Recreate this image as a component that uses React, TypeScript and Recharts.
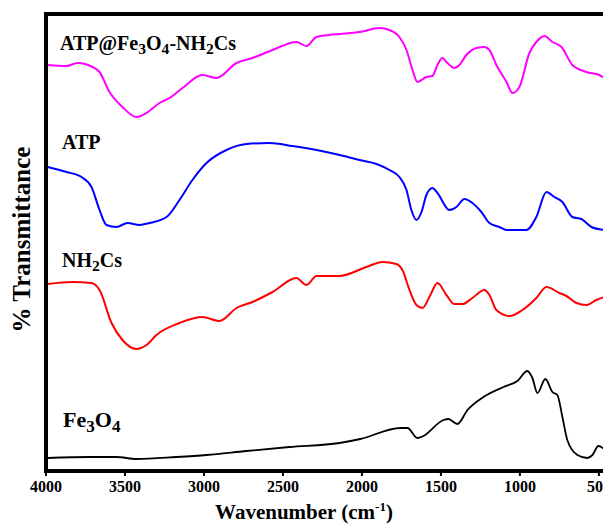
import { LineChart, Line, XAxis, YAxis, Label, ReferenceLine } from 'recharts';

// FTIR spectra, stacked (arbitrary offset units)
const xTicks = [4000, 3500, 3000, 2500, 2000, 1500, 1000, 500];

const atpFeWn = [3990, 3870, 3801, 3706, 3661, 3598, 3516, 3427, 3364, 3282, 3218, 3136, 3010, 2921, 2794, 2693, 2566, 2415, 2351, 2288, 2206, 2142, 2016, 1889, 1826, 1763, 1718, 1680, 1649, 1592, 1554, 1522, 1491, 1459, 1415, 1383, 1339, 1275, 1225, 1193, 1149, 1085, 1047, 1003, 940, 896, 845, 794, 737, 668, 579, 497, 465];
const atpFeT = [406, 405, 408, 404, 399, 379, 364, 354, 358, 368, 373, 383, 396, 393, 408, 413, 421, 429, 425, 434, 436, 437, 439, 443, 441, 434, 421, 401, 389, 394, 395, 406, 413, 408, 403, 406, 416, 423, 424, 421, 406, 389, 378, 384, 418, 429, 435, 429, 424, 406, 399, 396, 393];

const atpWn = [3990, 3870, 3775, 3712, 3661, 3617, 3554, 3484, 3408, 3345, 3237, 3155, 3073, 2984, 2858, 2731, 2585, 2440, 2288, 2142, 2016, 1908, 1826, 1763, 1718, 1687, 1655, 1623, 1592, 1554, 1522, 1446, 1402, 1351, 1301, 1244, 1193, 1130, 1085, 959, 896, 832, 782, 731, 668, 611, 547, 465];
const atpT = [304, 299, 294, 284, 261, 246, 244, 248, 246, 248, 254, 271, 291, 308, 321, 327, 328, 325, 321, 316, 311, 307, 301, 294, 281, 261, 251, 259, 276, 283, 278, 261, 264, 272, 268, 259, 248, 244, 241, 241, 254, 279, 274, 269, 254, 252, 244, 241];

const csWn = [3990, 3832, 3712, 3661, 3585, 3516, 3427, 3364, 3301, 3155, 3010, 2902, 2794, 2693, 2566, 2415, 2351, 2288, 2142, 1972, 1870, 1782, 1744, 1699, 1655, 1617, 1573, 1522, 1465, 1415, 1364, 1301, 1225, 1193, 1149, 1066, 984, 896, 832, 750, 706, 642, 579, 516, 465];
const csT = [187, 189, 188, 181, 148, 131, 122, 126, 136, 148, 154, 150, 163, 169, 179, 193, 186, 195, 195, 204, 209, 207, 201, 181, 166, 163, 174, 188, 176, 167, 167, 173, 181, 176, 161, 155, 161, 173, 184, 178, 175, 168, 166, 171, 174];

const feWn = [3990, 3725, 3554, 3427, 3174, 2984, 2731, 2459, 2142, 2010, 1756, 1712, 1649, 1611, 1484, 1453, 1396, 1332, 1231, 1104, 1016, 953, 921, 889, 839, 794, 763, 731, 700, 636, 573, 541, 503, 459];
const feT = [13, 14, 14, 12, 14, 16, 20, 24, 28, 32, 43, 43, 33, 35, 51, 52, 47, 61, 74, 84, 90, 100, 93, 78, 92, 79, 76, 54, 31, 16, 13, 16, 25, 21];

const FONT = "'Liberation Serif', 'Times New Roman', serif";
const X_MIN = 455;
const X_MAX = 4000;
const Y_MAX = 457;

// chart geometry
const W = 603;
const H = 516;
const M = { top: 6, right: 5, bottom: 0, left: 0 };
const Y_AXIS_W = 38;
const X_AXIS_H = 53;
const frame = { stroke: '#000', strokeWidth: 4 };

const zip = (wn: number[], t: number[]) => wn.map((w, i) => ({ wn: w, t: t[i] }));

// box round the plot area
const Frame = ({ color }: { color: string }) => {
  const x = M.left + Y_AXIS_W;
  const y = M.top;
  const w = W - M.left - M.right - Y_AXIS_W;
  const h = H - M.top - M.bottom - X_AXIS_H;
  return (
    <g>
      <rect x={x} y={y} width={w} height={h} fill="none" stroke={color} strokeWidth={4} />
    </g>
  );
};

// label text with subscripts: [text, isSub]
const Formula = ({ x, y, size, parts }: { x: number; y: number; size: number; parts: [string, boolean][] }) => {
  const shift = Math.round(size * 0.22);
  let down = false;
  return (
    <text x={x} y={y} fontFamily={FONT} fontWeight="bold" fontSize={size} fill="#000">
      {parts.map(([s, sub], i) => {
        let dy = 0;
        if (sub && !down) { dy = shift; down = true; }
        else if (!sub && down) { dy = -shift; down = false; }
        return (
          <tspan key={i} dy={dy} fontSize={sub ? size * 0.78 : size}>
            {s}
          </tspan>
        );
      })}
    </text>
  );
};

const XTick = ({ x, y, payload }: any) => (
  <text x={x} y={y + 13} textAnchor="middle" fontFamily={FONT} fontWeight="bold" fontSize={16} fill="#000">
    {payload.value}
  </text>
);

const xLabel = (props: any) => {
  const vb = props.viewBox;
  const cx = vb.x + vb.width / 2 - 22;
  const y = vb.y + vb.height - 5;
  return (
    <text x={cx} y={y} textAnchor="middle" fontFamily={FONT} fontWeight="bold" fontSize={21} fill="#000">
      Wavenumber (cm<tspan fontSize={13} dy={-8}>-1</tspan><tspan dy={8}>)</tspan>
    </text>
  );
};

const yLabel = (props: any) => {
  const vb = props.viewBox;
  const x = vb.x + 22;
  const cy = vb.y + vb.height / 2 - 3;
  return (
    <text x={x} y={cy} transform={`rotate(-90, ${x}, ${cy})`} textAnchor="middle" fontFamily={FONT} fontWeight="bold" fontSize={25} fill="#000">
      % Transmittance
    </text>
  );
};

export default function App() {
  return (
    <LineChart width={W} height={H} margin={M}>
      <XAxis
        xAxisId="b"
        type="number"
        dataKey="wn"
        domain={[X_MIN, X_MAX]}
        reversed
        allowDataOverflow
        ticks={xTicks}
        interval={0}
        height={X_AXIS_H}
        axisLine={frame}
        tickLine={{ stroke: '#000', strokeWidth: 2 }}
        tickSize={5}
        tickMargin={3}
        tick={<XTick />}
      >
        <Label content={xLabel} />
      </XAxis>
      <YAxis yAxisId="l" type="number" domain={[0, Y_MAX]} allowDataOverflow width={Y_AXIS_W} tick={false} tickLine={false} axisLine={frame}>
        <Label content={yLabel} />
      </YAxis>

      <ReferenceLine xAxisId="b" yAxisId="l" y={Y_MAX} stroke="#000" strokeWidth={4} ifOverflow="visible" />
      <ReferenceLine xAxisId="b" yAxisId="l" x={X_MIN} stroke="#000" strokeWidth={4} ifOverflow="visible" />

      <Line xAxisId="b" yAxisId="l" data={zip(atpFeWn, atpFeT)} dataKey="t" type="monotone" stroke="#ff00ff" strokeWidth={2} dot={false} isAnimationActive={false} />
      <Line xAxisId="b" yAxisId="l" data={zip(atpWn, atpT)} dataKey="t" type="monotone" stroke="#0000ff" strokeWidth={2} dot={false} isAnimationActive={false} />
      <Line xAxisId="b" yAxisId="l" data={zip(csWn, csT)} dataKey="t" type="monotone" stroke="#ff0000" strokeWidth={2} dot={false} isAnimationActive={false} />
      <Line xAxisId="b" yAxisId="l" data={zip(feWn, feT)} dataKey="t" type="monotone" stroke="#000" strokeWidth={1.8} dot={false} isAnimationActive={false} />

      <Frame color="#000" />

      <Formula x={52} y={42} size={20} parts={[['ATP@Fe', false], ['3', true], ['O', false], ['4', true], ['-NH', false], ['2', true], ['Cs', false]]} />
      <Formula x={54} y={141} size={20} parts={[['ATP', false]]} />
      <Formula x={54} y={259} size={20} parts={[['NH', false], ['2', true], ['Cs', false]]} />
      <Formula x={55} y={419} size={22} parts={[['Fe', false], ['3', true], ['O', false], ['4', true]]} />
    </LineChart>
  );
}
